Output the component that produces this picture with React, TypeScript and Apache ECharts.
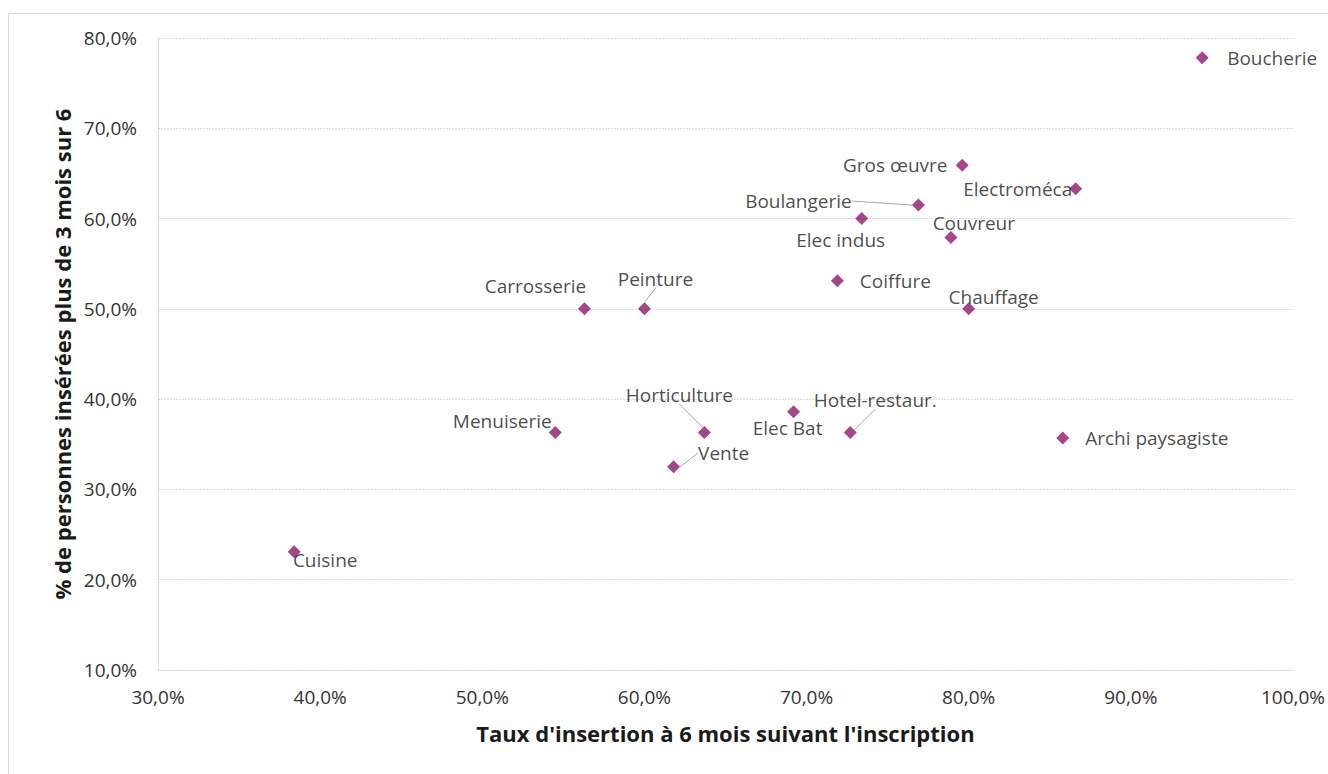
import { useEffect, useRef } from "react";
import * as echarts from "echarts";

// Métiers and their two indicators (in %)
const metiers = [
  "Boucherie",
  "Gros œuvre",
  "Electroméca",
  "Boulangerie",
  "Elec indus",
  "Couvreur",
  "Coiffure",
  "Chauffage",
  "Carrosserie",
  "Peinture",
  "Horticulture",
  "Elec Bat",
  "Hotel-restaur.",
  "Menuiserie",
  "Vente",
  "Archi paysagiste",
  "Cuisine",
];
const tauxInsertion6Mois = [
  94.4, 79.6, 86.6, 76.9, 73.4, 78.9, 71.9, 80.0, 56.3, 60.0, 63.7, 69.2, 72.7,
  54.5, 61.8, 85.8, 38.4,
];
const partInseres3Sur6 = [
  77.8, 65.9, 63.3, 61.5, 60.0, 57.9, 53.1, 50.0, 50.0, 50.0, 36.3, 38.6, 36.3,
  36.3, 32.5, 35.7, 23.1,
];

// Axis ranges
const xRange = { min: 30, max: 100, step: 10 };
const yRange = { min: 10, max: 80, step: 10 };

// Label placement: pixel shift of each label centre from its marker
const labelShift: Record<string, [number, number]> = {
  Boucherie: [70, 0],
  "Gros œuvre": [-67, 0],
  Electroméca: [-58, 0],
  Boulangerie: [-120, -4],
  "Elec indus": [-21, 21],
  Couvreur: [23, -15],
  Coiffure: [58, 0],
  Chauffage: [25, -12],
  Carrosserie: [-49, -23],
  Peinture: [11, -30],
  Horticulture: [-25, -38],
  "Elec Bat": [-6, 16],
  "Hotel-restaur.": [25, -33],
  Menuiserie: [-53, -12],
  Vente: [50, -14],
  "Archi paysagiste": [94, 0],
  Cuisine: [31, 8],
};
const withLeaderLine = new Set([
  "Boulangerie",
  "Peinture",
  "Horticulture",
  "Hotel-restaur.",
  "Vente",
]);

const pct = (v: number) => v.toFixed(1).replace(".", ",") + "%";

const FONT = "'Open Sans', 'Noto Sans', sans-serif";
const GRID_COLOR = "#d9d9d9";
const TEXT_COLOR = "#1a1a1a";

export default function App() {
  const ref = useRef<HTMLDivElement>(null);

  useEffect(() => {
    if (!ref.current) return;
    const chart = echarts.init(ref.current, null, { renderer: "svg" });

    const data = metiers.map((name, i) => ({
      name,
      value: [tauxInsertion6Mois[i], partInseres3Sur6[i]],
      labelLine: { show: withLeaderLine.has(name) },
    }));

    chart.setOption({
      animation: false,
      backgroundColor: "#ffffff",
      textStyle: { fontFamily: FONT },
      graphic: [
        {
          type: "rect",
          silent: true,
          z: -10,
          shape: { x: 8.5, y: 13.5, width: 1400, height: 900 },
          style: { fill: "none", stroke: GRID_COLOR, lineWidth: 1 },
        },
      ],
      grid: { left: 158, right: 35, top: 38, bottom: 104 },
      xAxis: {
        type: "value",
        min: xRange.min,
        max: xRange.max,
        interval: xRange.step,
        name: "Taux d'insertion à 6 mois suivant l'inscription",
        nameLocation: "middle",
        nameGap: 52,
        nameTextStyle: {
          fontFamily: FONT,
          fontWeight: "bold",
          fontSize: 22,
          color: TEXT_COLOR,
          verticalAlign: "top",
        },
        axisLine: {
          show: true,
          lineStyle: { color: GRID_COLOR, type: [2, 1], width: 1 },
        },
        axisTick: { show: false },
        splitLine: { show: false },
        axisLabel: {
          formatter: pct,
          fontFamily: FONT,
          fontSize: 19,
          color: "#333333",
          margin: 17,
        },
      },
      yAxis: {
        type: "value",
        min: yRange.min,
        max: yRange.max,
        interval: yRange.step,
        name: "% de personnes insérées plus de 3 mois sur 6",
        nameLocation: "middle",
        nameGap: 80,
        nameRotate: 90,
        nameTextStyle: {
          fontFamily: FONT,
          fontWeight: "bold",
          fontSize: 22,
          color: TEXT_COLOR,
        },
        axisLine: {
          show: true,
          lineStyle: { color: GRID_COLOR, type: [2, 1], width: 1 },
        },
        axisTick: { show: false },
        splitLine: {
          show: true,
          lineStyle: { color: GRID_COLOR, type: [2, 1], width: 1 },
        },
        axisLabel: {
          formatter: pct,
          fontFamily: FONT,
          fontSize: 19,
          color: "#333333",
          margin: 21,
        },
      },
      series: [
        {
          type: "scatter",
          symbol: "diamond",
          symbolSize: 13,
          itemStyle: { color: "#8f166d" },
          data,
          label: {
            show: true,
            position: "inside",
            formatter: "{b}",
            fontFamily: FONT,
            fontSize: 19,
            color: TEXT_COLOR,
          },
          labelLine: {
            show: false,
            lineStyle: { color: "#a6a6a6", width: 1 },
          },
          labelLayout: (p: any) => {
            const s = labelShift[metiers[p.dataIndex]] || [0, 0];
            return { dx: s[0], dy: s[1] };
          },
        },
      ],
    });

    return () => chart.dispose();
  }, []);

  return (
    <div
      ref={ref}
      style={{ position: "fixed", left: 0, top: 0, width: 1328, height: 774 }}
    />
  );
}
